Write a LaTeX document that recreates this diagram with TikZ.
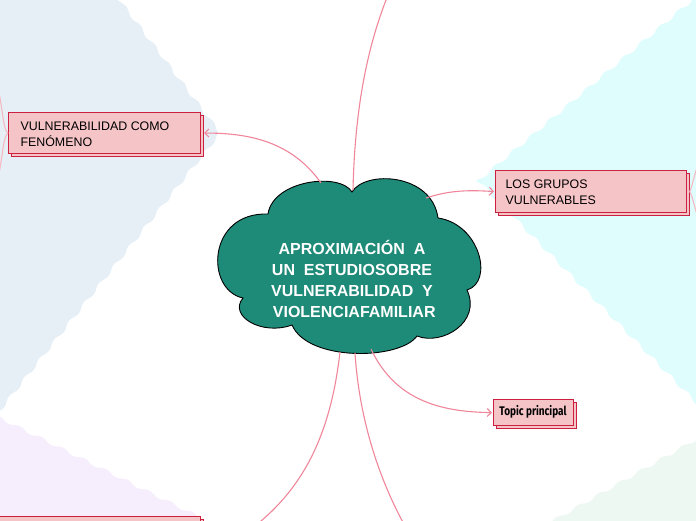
\documentclass[tikz,border=0pt]{standalone}
\usepackage{fontspec}
\setmainfont{Liberation Sans}
\newfontfamily\topicfont[FakeStretch=0.8]{Fira Sans}
\usetikzlibrary{arrows.meta,shadows,decorations.pathmorphing}
\definecolor{bgblue}{HTML}{E6EFF6}
\definecolor{bgcyan}{HTML}{E0FDFD}
\definecolor{bglav}{HTML}{F6EEFC}
\definecolor{bgmint}{HTML}{EEF8F3}
\definecolor{cloudfill}{HTML}{1E8A78}
\definecolor{boxfill}{HTML}{F5C4C7}
\definecolor{boxline}{HTML}{CC2040}
\definecolor{linkpink}{HTML}{F0869A}
\definecolor{bracketpink}{HTML}{F6B8C2}
\tikzset{
  wavy/.style={decorate,decoration={snake,amplitude=1.6pt,segment length=24pt}},
  topicbox/.style={draw=boxline,line width=1.1pt,fill=boxfill,rectangle,anchor=north west,
    inner sep=0pt,copy shadow={shadow xshift=2.5pt,shadow yshift=-2.5pt}},
  conn/.style={draw=linkpink,line width=1.1pt,-{Straight Barb[length=4pt,width=8pt]}},
  plain/.style={draw=linkpink,line width=1.1pt},
  bracket/.style={draw=bracketpink,line width=1.1pt},
  boxtext/.style={font=\fontsize{12.4}{15.5}\selectfont,align=left,text=black},
}
\begin{document}
\begin{tikzpicture}[x=1pt,y=-1pt]
\useasboundingbox (0,0) rectangle (696,520);
\clip (0,0) rectangle (696,520);
\fill[white] (0,0) rectangle (696,520);
% background regions
\fill[bgblue,wavy] (-30,-30) -- (93,-30) -- (218,135) -- (-30,447) -- cycle;
\fill[bgcyan,wavy] (730,-32) -- (483,177) -- (730,428) -- cycle;
\fill[bglav,wavy] (-30,403) -- (225,530) -- (-30,530) -- cycle;
\fill[bgmint,wavy] (530,534) -- (730,420) -- (730,534) -- cycle;

% cloud
\path[draw=black,line width=0.9pt,fill=cloudfill]
  (268,214) .. controls (273,180) and (340,172) .. (352,192)
  .. controls (365,170) and (432,173) .. (438,218)
  .. controls (480,224) and (494,282) .. (467,290)
  .. controls (482,322) and (442,346) .. (417,336)
  .. controls (400,360) and (308,362) .. (292,325)
  .. controls (262,336) and (228,316) .. (243,298)
  .. controls (205,290) and (207,212) .. (268,214) -- cycle;
\node[text=white,font=\fontsize{16}{21}\bfseries,align=center] (root) at (352,279)
  {APROXIMACIÓN\ \ A\\UN\ \ ESTUDIOSOBRE\\VULNERABILIDAD\ \ Y\\\ VIOLENCIAFAMILIAR};
\coordinate (c1) at (321,183);
\coordinate (c2) at (353,190);
\coordinate (c3) at (426,198);
\coordinate (c4) at (371,349);
\coordinate (c5) at (340,352);
\coordinate (c6) at (355,353);
\coordinate (top) at (388,-5);
\coordinate (bl) at (255,526);
\coordinate (br) at (405,526);

% boxes
\node[topicbox,minimum width=192pt,minimum height=41pt] (b1) at (8,112) {};
\node[boxtext,anchor=west] (t1) at (17,134) {VULNERABILIDAD COMO\\FENÓMENO};
\node[topicbox,minimum width=191pt,minimum height=42pt] (b2) at (495,170) {};
\node[boxtext,anchor=west] (t2) at (502,192) {LOS GRUPOS\\VULNERABLES};
\node[topicbox,minimum width=80pt,minimum height=26pt] (b3) at (493,399) {};
\node[font=\topicfont\bfseries\fontsize{12.5}{14}\selectfont,text=black] (t3) at (533,412) {Topic principal};
\node[topicbox,minimum width=210pt,minimum height=30pt] (b4) at (-10,516) {};

% connectors
\draw[conn] (c1) .. controls (292,142) and (250,133) .. ([xshift=3pt]b1.east);
\draw[plain] (c2) .. controls (355,100) and (370,40) .. (top);
\draw[conn] (c3) .. controls (450,190) and (470,190) .. ([xshift=-1pt]b2.west);
\draw[conn] (c4) .. controls (395,400) and (440,412) .. ([xshift=-1pt]b3.west);
\draw[plain] (c5) .. controls (330,440) and (300,490) .. (bl);
\draw[plain] (c6) .. controls (360,430) and (385,490) .. (br);

% side brackets
\coordinate (l1) at (-2,88);
\coordinate (l2) at (-2,178);
\coordinate (r1) at (698,165);
\coordinate (r2) at (698,218);
\draw[bracket] (b1.west) .. controls (3,130) and (3,110) .. (l1);
\draw[bracket] (b1.west) .. controls (3,136) and (3,156) .. (l2);
\draw[bracket] ([xshift=2.5pt]b2.east) .. controls (692,188) and (694,175) .. (r1);
\draw[bracket] ([xshift=2.5pt]b2.east) .. controls (692,195) and (694,205) .. (r2);
\end{tikzpicture}
\end{document}
